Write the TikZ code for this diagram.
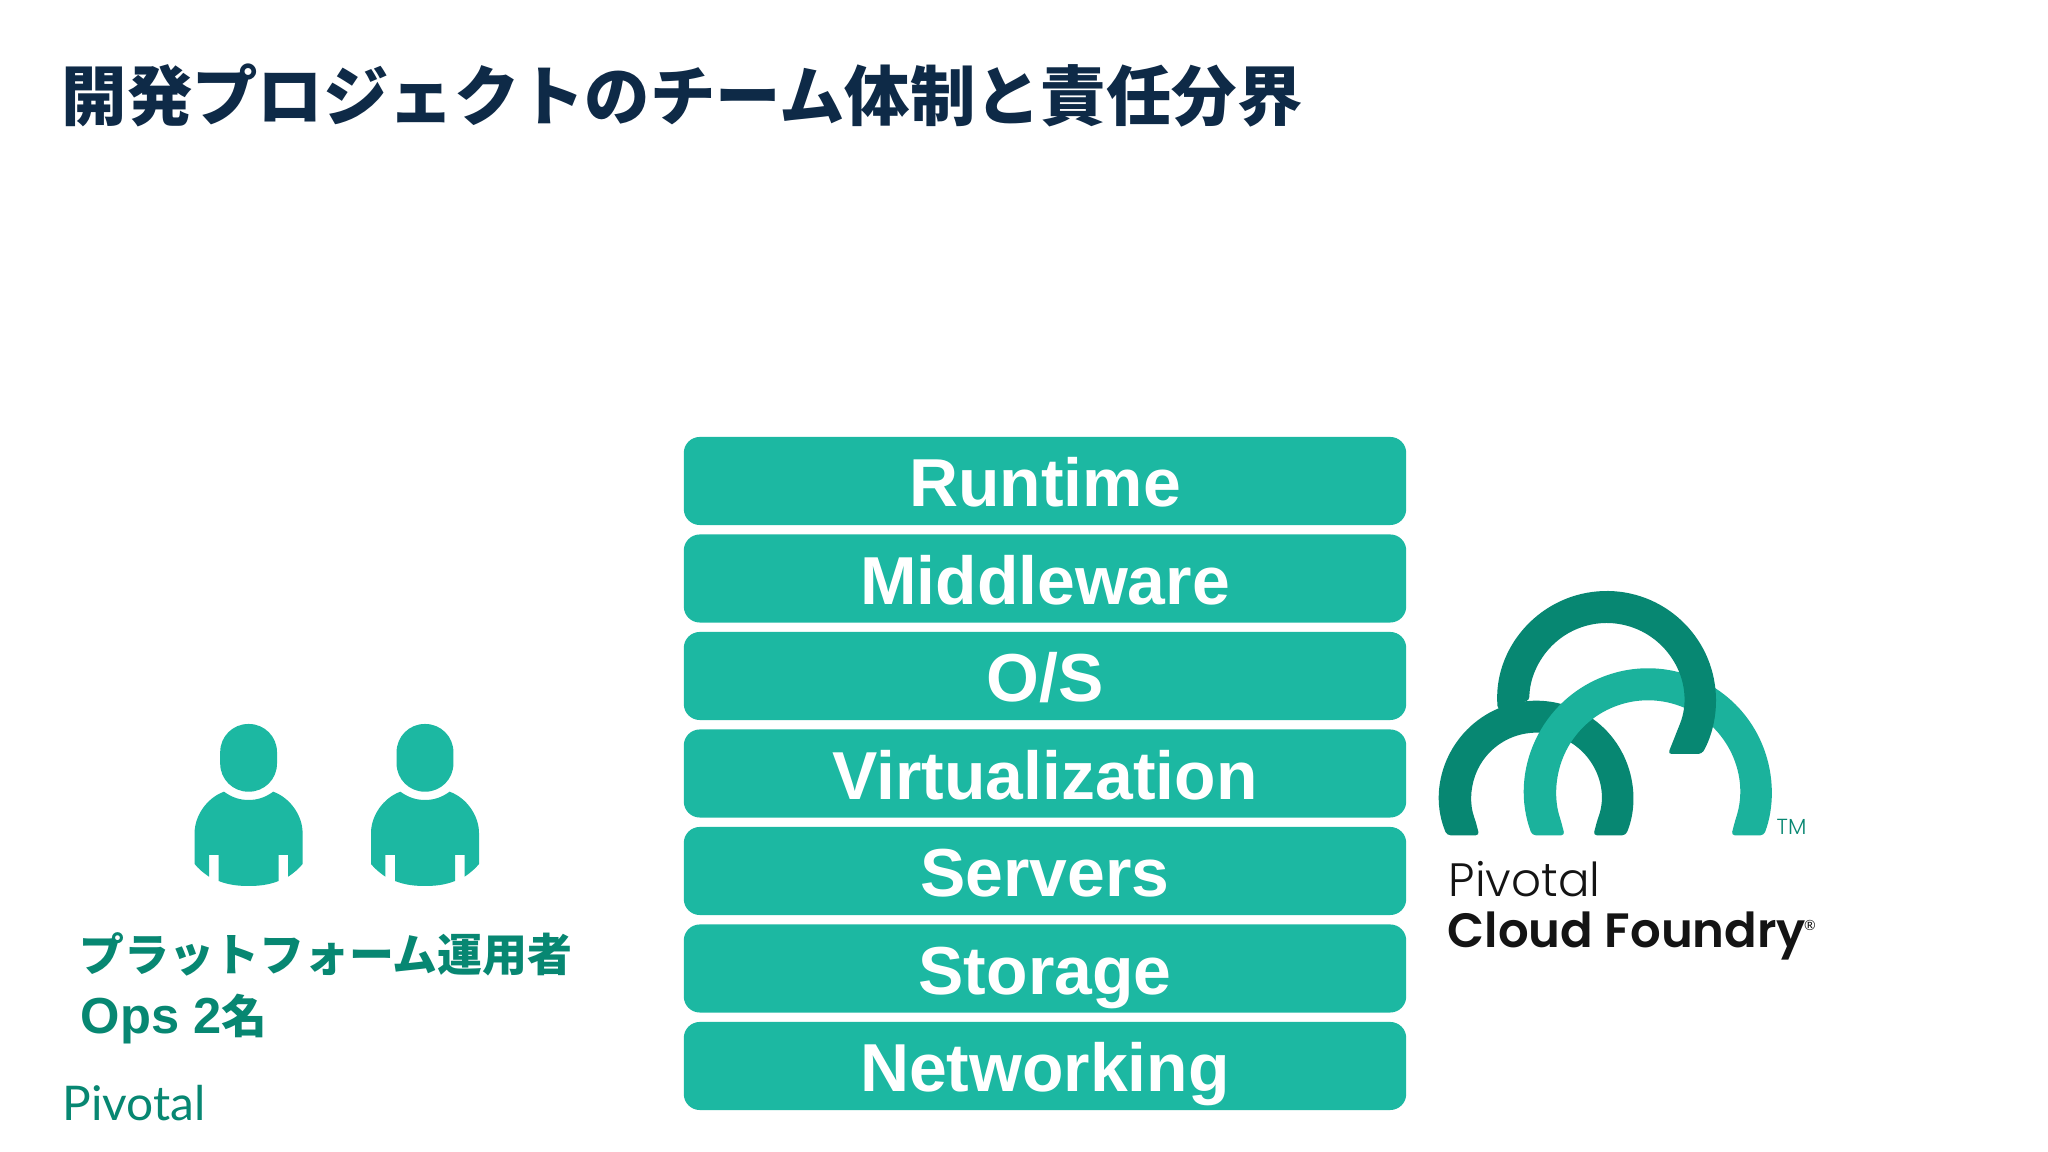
\documentclass[tikz,border=0pt]{standalone}
\usepackage{fontspec}
\setmainfont{Liberation Sans}
\newfontfamily\jpfont{Noto Sans CJK JP}
\newfontfamily\logofont{Lato}
\newfontfamily\logolight{Poppins Light}
\newfontfamily\logobold{Poppins SemiBold}
\definecolor{titlenavy}{HTML}{0E2A47}
\definecolor{tealbox}{HTML}{1CB8A2}
\definecolor{tealdark}{HTML}{078772}
\definecolor{teallight}{HTML}{1BB29C}
\definecolor{logoblack}{HTML}{141414}
\tikzset{
  layerbox/.style={fill=tealbox,rounded corners=0.16cm,minimum width=7.22cm,minimum height=0.88cm,
    inner sep=0pt,text=white,text height=0.6cm,text depth=0.086cm,font=\fontsize{19.3}{20}\selectfont\bfseries},
  lefttext/.style={anchor=base west,inner sep=0pt,text=tealdark},
  person/.pic={
    \begin{scope}[yscale=-1]
    \fill[tealbox,rounded corners=0.28cm] (-28.4,0) rectangle (28.4,67.7);
    \fill[tealbox] (-24.6,67.7) .. controls (-16,74) and (-8,76) .. (0,76)
      .. controls (8,76) and (16,74) .. (24.6,67.7)
      .. controls (42,74) and (54,92) .. (54,109) -- (54,140)
      .. controls (50,145) and (45,149) .. (39.6,152.7) -- (39.6,131) -- (30,131) -- (30,157)
      .. controls (20,161) and (10,162) .. (0,162) .. controls (-10,162) and (-20,161) .. (-30,157)
      -- (-30,131) -- (-39.6,131) -- (-39.6,152.7) .. controls (-45,149) and (-50,145) .. (-54,140)
      -- (-54,109) .. controls (-54,92) and (-42,74) .. (-24.6,67.7) -- cycle;
    \end{scope}
  }
}
\begin{document}
\begin{tikzpicture}[x=0.01cm,y=0.01cm]
\useasboundingbox (0,0) rectangle (2048,1152);
\fill[white] (0,0) rectangle (2048,1152);

\node[anchor=base west,inner sep=0pt,text=titlenavy,font=\fontsize{18.6}{20}\selectfont\jpfont\bfseries] (title) at (61,1031) {開発プロジェクトのチーム体制と責任分界};

\node[layerbox] (runtime) at (1045,671) {Runtime};
\node[layerbox] (middleware) at (1045,573.5) {Middleware};
\node[layerbox] (os) at (1045,476) {O/S};
\node[layerbox] (virtualization) at (1045,378.5) {Virtualization};
\node[layerbox] (servers) at (1045,281) {Servers};
\node[layerbox] (storage) at (1045,183.5) {Storage};
\node[layerbox] (networking) at (1045,86) {Networking};

\pic (personA) at (248.6,428) {person};
\pic (personB) at (425,428) {person};

\node[lefttext,font=\fontsize{12.78}{14}\selectfont\jpfont\bfseries] (opsrole) at (79,180) {プラットフォーム運用者};
\node[lefttext,font=\fontsize{14.4}{15}\selectfont\bfseries] (opscount) at (80,118) {Ops 2{\jpfont\fontsize{13}{14}\selectfont 名}};
\node[lefttext,font=\fontsize{13.6}{14}\selectfont\logofont] (pivotalsmall) at (62,31) {Pivotal};

\fill[tealdark,rounded corners=1pt] (1536.3,354.3) ++(202.8:97) arc (202.8:-22.8:97)
  -- (1593.3,316.7) -- ([shift={(-20:65)}]1536.3,354.3) arc (-20:200:65) -- (1479.3,316.7) -- cycle;
\fill[teallight,rounded corners=1pt] (1648,360) ++(200.5:123.7) arc (200.5:-20.5:123.7)
  -- (1731.3,316.7) -- ([shift={(-18:91.7)}]1648,360) arc (-18:198:91.7) -- (1564.7,316.7) -- cycle;
\fill[tealdark,rounded corners=1pt] (1606.7,451.7) ++(185:109.3) arc (185:-29.4:109.3)
  -- (1668,398) -- ([shift={(-15:77.3)}]1606.7,451.7) arc (-15:180:77.3) -- cycle;

\node[anchor=base west,inner sep=0pt,text=tealdark,font=\fontsize{6.2}{7}\selectfont\logolight] (tm) at (1776,317) {TM};
\node[anchor=base west,inner sep=0pt,text=logoblack,font=\fontsize{13.3}{15}\selectfont\logolight] (pivotal) at (1448,255) {Pivotal};
\node[anchor=base west,inner sep=0pt,text=logoblack,font=\fontsize{13.7}{15}\selectfont\logobold] (foundry) at (1447,204) {Cloud Foundry};
\node[anchor=center,inner sep=0pt,text=logoblack,font=\fontsize{4}{5}\selectfont\logofont] (registered) at (1810,227) {®};
\end{tikzpicture}
\end{document}
